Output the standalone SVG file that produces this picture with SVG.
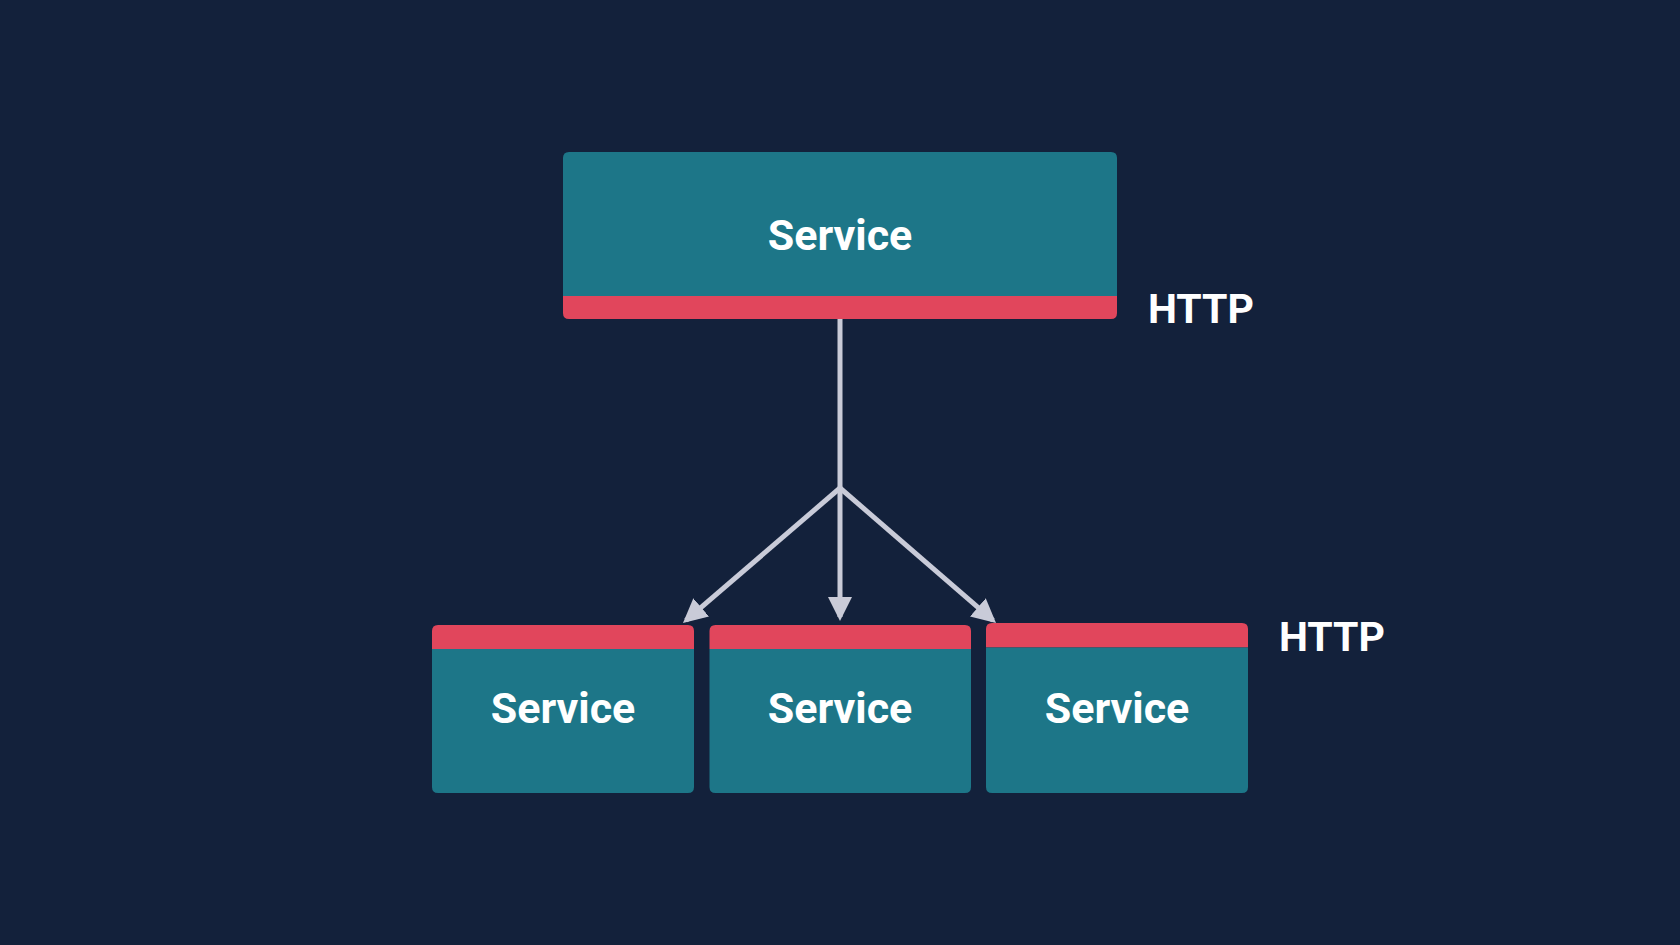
<svg xmlns="http://www.w3.org/2000/svg" width="1680" height="945" viewBox="0 0 1680 945">
<defs>
<style>
.teal{fill:#1d7688}
.red{fill:#e1465c}
.lbl{font-family:Roboto,"Liberation Sans",Arial,sans-serif;font-weight:bold;font-size:43px;fill:#ffffff}
.http{font-size:41px}
.mid{text-anchor:middle}
.conn{stroke:#c9cbd8;stroke-width:5;fill:none;stroke-linecap:butt}
</style>
<marker id="ah" viewBox="0 0 24 24" refX="20" refY="12" markerWidth="24" markerHeight="24" markerUnits="userSpaceOnUse" orient="auto">
<path d="M0,0 L24,12 L0,24 Z" fill="#c9cbd8"/>
</marker>
</defs>
<rect x="0" y="0" width="1680" height="945" fill="#13213b"/>
<g id="connectors">
<path class="conn" d="M840,319 V488"/>
<path class="conn" d="M840,488 V617" marker-end="url(#ah)"/>
<path class="conn" d="M840,488 L686,620.4" marker-end="url(#ah)"/>
<path class="conn" d="M840,488 L993,620.4" marker-end="url(#ah)"/>
</g>
<g id="service-top">
<path class="teal" d="M563,296 V158 Q563,152 569,152 H1111 Q1117,152 1117,158 V296 Z"/>
<path class="red" d="M563,296 H1117 V313 Q1117,319 1111,319 H569 Q563,319 563,313 Z"/>
<text class="lbl mid" x="840" y="250">Service</text>
</g>
<g id="http-top">
<text class="lbl http" x="1148" y="323">HTTP</text>
</g>
<g id="service-1">
<path class="red" d="M432,649 V631 Q432,625 438,625 H688 Q694,625 694,631 V649 Z"/>
<path class="teal" d="M432,649 H694 V787 Q694,793 688,793 H438 Q432,793 432,787 Z"/>
<text class="lbl mid" x="563" y="723">Service</text>
</g>
<g id="service-2">
<path class="red" d="M709.5,649 V631 Q709.5,625 715.5,625 H965 Q971,625 971,631 V649 Z"/>
<path class="teal" d="M709.5,649 H971 V787 Q971,793 965,793 H715.5 Q709.5,793 709.5,787 Z"/>
<text class="lbl mid" x="840" y="723">Service</text>
</g>
<g id="service-3">
<path class="red" d="M986,647.5 V629 Q986,623 992,623 H1242 Q1248,623 1248,629 V647.5 Z"/>
<path class="teal" d="M986,647.5 H1248 V787 Q1248,793 1242,793 H992 Q986,793 986,787 Z"/>
<text class="lbl mid" x="1117" y="723">Service</text>
</g>
<g id="http-bottom">
<text class="lbl http" x="1279" y="651">HTTP</text>
</g>
</svg>
